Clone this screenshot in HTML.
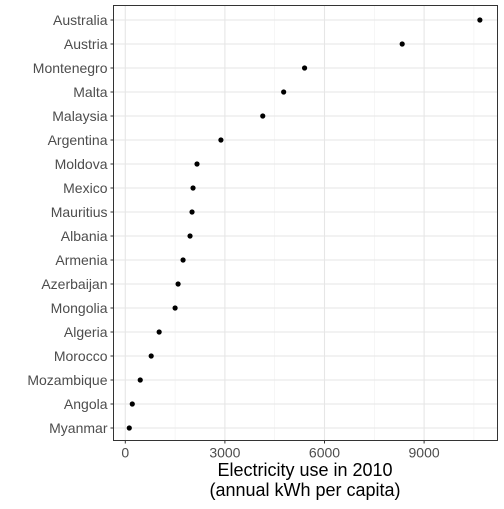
<!DOCTYPE html>
<html><head><meta charset="utf-8"><style>
body{margin:0;background:#fff;width:504px;height:504px;overflow:hidden}
text{font-family:"Liberation Sans",sans-serif}
</style></head><body>
<svg id="chart" width="504" height="504"></svg>
<script>
const countries=["Australia","Austria","Montenegro","Malta","Malaysia","Argentina","Moldova","Mexico","Mauritius","Albania","Armenia","Azerbaijan","Mongolia","Algeria","Morocco","Mozambique","Angola","Myanmar"];
const values=[10680,8340,5400,4770,4140,2880,2160,2040,2010,1950,1740,1590,1500,1020,780,450,210,120];
const xTicks=[0,3000,6000,9000];
const xMinor=[1500,4500,7500,10500];
const NS="http://www.w3.org/2000/svg";
const svg=document.getElementById('chart');
const L=113.5,R=497.5,T=5.5,B=440.5;
const x=v=>125.3+v*(99.6/3000);
const y=i=>20+i*24;
function add(tag,attrs,parent){const e=document.createElementNS(NS,tag);for(const k in attrs)e.setAttribute(k,attrs[k]);(parent||svg).appendChild(e);return e;}
const grid=add('g',{});


xMinor.forEach(v=>add('line',{x1:x(v),x2:x(v),y1:T,y2:B,stroke:'#f0f0f0','stroke-width':0.6},grid));
xTicks.forEach(v=>add('line',{x1:x(v),x2:x(v),y1:T,y2:B,stroke:'#e6e6e6','stroke-width':1.1},grid));
countries.forEach((c,i)=>add('line',{x1:L,x2:R,y1:y(i),y2:y(i),stroke:'#e6e6e6','stroke-width':1.1},grid));
const panel=add('rect',{x:L,y:T,width:R-L,height:B-T,fill:'none',stroke:'#333','stroke-width':1});


countries.forEach((c,i)=>{
  const t=add('text',{x:L-6,y:y(i)+5,'text-anchor':'end','font-size':14,fill:'#4d4d4d'});
  t.textContent=c;
  
  
  add('line',{x1:L-3,x2:L,y1:y(i),y2:y(i),stroke:'#333'});
  const d=add('circle',{cx:x(values[i]),cy:y(i),r:2.6,fill:'#000'});
  
  
});
xTicks.forEach(v=>{
  add('line',{x1:x(v),x2:x(v),y1:B,y2:B+3,stroke:'#333'});
  const t=add('text',{x:x(v),y:B+17,'text-anchor':'middle','font-size':14,fill:'#4d4d4d'});
  t.textContent=v;
  
  
});
const t1=add('text',{x:305,y:476,'text-anchor':'middle','font-size':18,fill:'#000'});
t1.textContent='Electricity use in 2010';


const t2=add('text',{x:305,y:496,'text-anchor':'middle','font-size':18,fill:'#000'});
t2.textContent='(annual kWh per capita)';


</script>
</body></html>
